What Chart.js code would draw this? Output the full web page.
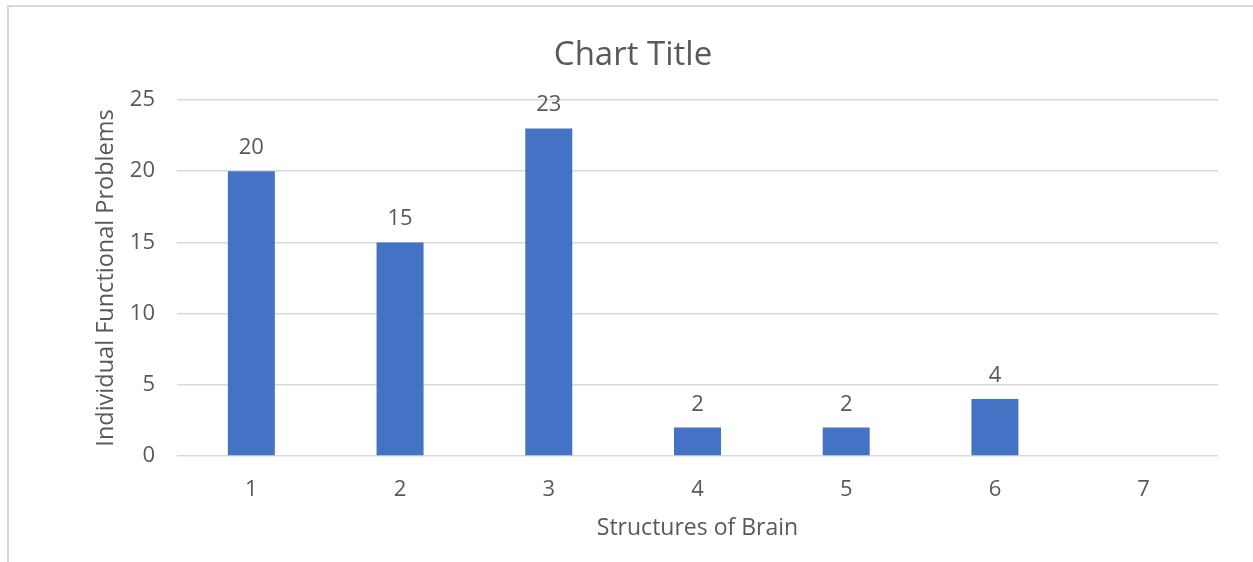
<!DOCTYPE html>
<html>
<head>
<meta charset="utf-8">
<script src="https://cdn.jsdelivr.net/npm/chart.js@4"></script>
<style>
  html, body { margin: 0; padding: 0; background: #fff; overflow: hidden; }
  #frame { position: absolute; left: 7px; top: 5px; width: 1300px; height: 600px;
           border-top: 2px solid #d9d9d9; border-left: 2px solid #d9d9d9; pointer-events: none; }
  canvas { position: absolute; left: 0; top: 0; }
</style>
</head>
<body>
<canvas id="c" width="1253" height="562"></canvas>
<div id="frame"></div>
<script>
const categories = ['1', '2', '3', '4', '5', '6', '7'];
const problems = [20, 15, 23, 2, 2, 4, null];
const yTicks = [0, 5, 10, 15, 20, 25];
const chartTitle = 'Chart Title';
const xTitle = 'Structures of Brain';
const yTitle = 'Individual Functional Problems';

const textColor = '#595959';
const fontFamily = '"Open Sans", "Noto Sans", sans-serif';

const valueLabels = {
  id: 'valueLabels',
  afterDatasetsDraw(chart) {
    const ctx = chart.ctx;
    const meta = chart.getDatasetMeta(0);
    ctx.save();
    ctx.font = '22px ' + fontFamily;
    ctx.fillStyle = textColor;
    ctx.textAlign = 'center';
    ctx.textBaseline = 'alphabetic';
    meta.data.forEach((bar, i) => {
      const v = chart.data.datasets[0].data[i];
      if (v === null || v === undefined) return;
      ctx.fillText(String(v), bar.x, bar.y - 17);
    });
    ctx.restore();
  }
};

new Chart(document.getElementById('c'), {
  type: 'bar',
  data: {
    labels: categories,
    datasets: [{
      data: problems,
      backgroundColor: '#4472C4',
      borderWidth: 0,
      categoryPercentage: 0.316,
      barPercentage: 1.0
    }]
  },
  options: {
    responsive: false,
    animation: false,
    devicePixelRatio: 1,
    layout: { padding: { left: 48, right: 35, top: 0, bottom: 20 } },
    plugins: {
      legend: { display: false },
      tooltip: { enabled: false },
      title: {
        display: true,
        text: chartTitle,
        color: textColor,
        font: { family: fontFamily, size: 33, weight: 'normal', lineHeight: 1.2 },
        padding: { top: 36, bottom: 24.4 }
      }
    },
    scales: {
      x: {
        grid: { display: false },
        border: { display: false },
        ticks: { color: textColor, padding: 13, font: { family: fontFamily, size: 22 } },
        title: {
          display: true, text: xTitle, color: textColor, padding: 0,
          font: { family: fontFamily, size: 23, lineHeight: 1.2 }
        },
        afterFit(s) { s.height = 86; }
      },
      y: {
        min: 0, max: 25,
        afterBuildTicks(s) { s.ticks = yTicks.map(v => ({ value: v })); },
        grid: { color: '#d9d9d9', lineWidth: 1.5, drawTicks: false },
        border: { display: false },
        ticks: { color: textColor, padding: 22, font: { family: fontFamily, size: 22 } },
        title: {
          display: true, text: yTitle, color: textColor, padding: { top: 44, bottom: 0 },
          font: { family: fontFamily, size: 23.5, lineHeight: 1.2 }
        },
        afterFit(s) { s.width = 129; }
      }
    }
  },
  plugins: [valueLabels]
});
</script>
</body>
</html>
